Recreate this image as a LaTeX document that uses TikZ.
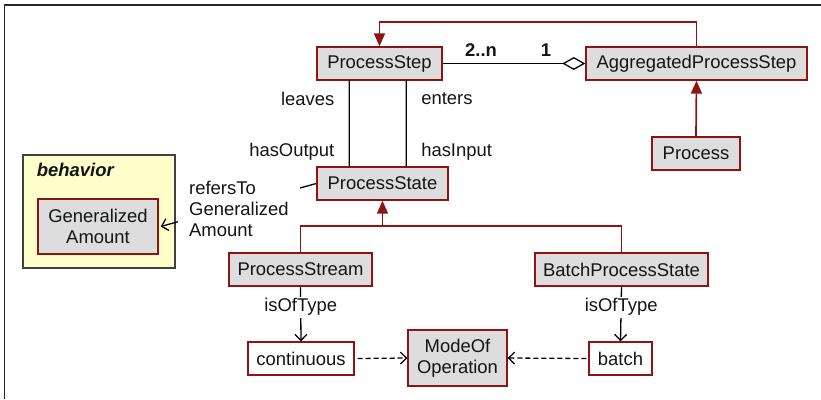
\documentclass[tikz,border=0pt]{standalone}
\usepackage{fontspec}
\setmainfont{Liberation Sans}
\usepackage{xcolor}
\usetikzlibrary{arrows.meta, positioning}

\definecolor{umlred}{RGB}{140,20,20}
\definecolor{umlgray}{RGB}{221,221,221}
\definecolor{pkgyellow}{RGB}{255,255,204}

\begin{document}
\begin{tikzpicture}[
  x=1bp, y=-1bp,
  every node/.style={font=\fontsize{18.5}{22}\selectfont, text=black!92, align=center},
  cls/.style={rectangle, draw=umlred, line width=1.4bp, fill=umlgray,
              minimum height=33bp, inner sep=2bp},
  inst/.style={cls, fill=white},
  pkg/.style={rectangle, draw=black!75, line width=1.2bp, fill=pkgyellow},
  inherit/.style={-{Triangle[width=11bp,length=13bp]}, umlred, line width=1.7bp},
  redline/.style={umlred, line width=1.7bp},
  assoc/.style={black, line width=1.3bp},
  navarrow/.style={assoc, -{Straight Barb[length=6bp,width=12bp]}},
  depend/.style={navarrow, dash pattern=on 5bp off 3bp},
  lbl/.style={fill=white, inner sep=2bp}
]
\useasboundingbox (0,0) rectangle (821,399);

% frame
\draw[black!85, line width=1.6bp] (4.5,399) -- (4.5,5) -- (821,5);

% package
\node[pkg, minimum width=152bp, minimum height=113bp] (behavior) at (99,211.5) {};
\node[anchor=west, font=\fontsize{18.5}{22}\selectfont\bfseries\itshape]
  (behaviorname) at ([xshift=11bp, yshift=-16bp]behavior.north west) {behavior};

% classes
\node[cls, minimum width=125bp] (pstep) at (379.5,63.5) {ProcessStep};
\node[cls, minimum width=221bp] (aps) at (696.5,63.5) {AggregatedProcessStep};
\node[cls, minimum width=88bp] (proc) at (696,153.5) {Process};
\node[cls, minimum width=131bp] (pstate) at (382.5,183.5) {ProcessState};
\node[cls, minimum width=143bp] (pstream) at (300.5,269.5) {ProcessStream};
\node[cls, minimum width=173bp] (bps) at (621.5,269.5) {BatchProcessState};
\node[cls, minimum width=120bp, minimum height=55bp] (genamt) at (98,226.5)
  {Generalized\\[-1bp]Amount};
\node[cls, minimum width=99bp, minimum height=56bp] (mode) at (457.5,358)
  {ModeOf\\[-1bp]Operation};
\node[inst, minimum width=106bp] (cont) at (301,358.5) {continuous};
\node[inst, minimum width=63bp] (batch) at (620.5,358.5) {batch};

% generalizations
\draw[inherit] (aps.north) -- ++(0,-24) -| (pstep.north);
\draw[inherit] (proc.north) -- (aps.south);
\coordinate (join) at ([yshift=-25bp]pstate.south);
\draw[redline] (pstream.north) |- (join) -| (bps.north);
\draw[inherit] (join) -- (pstate.south);

% aggregation
\draw[assoc, -{Diamond[open,length=23bp,width=13bp]}] (pstep.east) -- (aps.west);
\node[font=\fontsize{18.5}{22}\selectfont\bfseries] (mult2n) at (481,50) {2..n};
\node[font=\fontsize{18.5}{22}\selectfont\bfseries] (mult1) at (546,50) {1};

% associations
\draw[assoc] ([xshift=33bp]pstep.south west) -- ([xshift=33bp]pstate.north west)
  node[pos=.21, anchor=east, xshift=-11bp] {leaves}
  node[pos=.83, anchor=east, xshift=-11bp] {hasOutput};
\draw[assoc] ([xshift=90bp]pstep.south west) -- ([xshift=90bp]pstate.north west)
  node[pos=.21, anchor=west, xshift=11bp] {enters}
  node[pos=.83, anchor=west, xshift=11bp] {hasInput};
\draw[navarrow] (pstate.west) -- ([xshift=2bp]genamt.east);
\node[lbl, anchor=west, align=left, inner xsep=11bp] (refers) at (178,208.5)
  {refersTo\\[-1bp]Generalized\\[-1bp]Amount};
\draw[navarrow] (pstream.south) -- node[lbl, pos=.375] {isOfType} (cont.north);
\draw[navarrow] (bps.south) -- node[lbl, pos=.375] {isOfType} (batch.north);

% instances
\draw[depend] ([xshift=3bp]cont.east) -- (mode.west);
\draw[depend] ([xshift=-2bp]batch.west) -- (mode.east);
\end{tikzpicture}
\end{document}
